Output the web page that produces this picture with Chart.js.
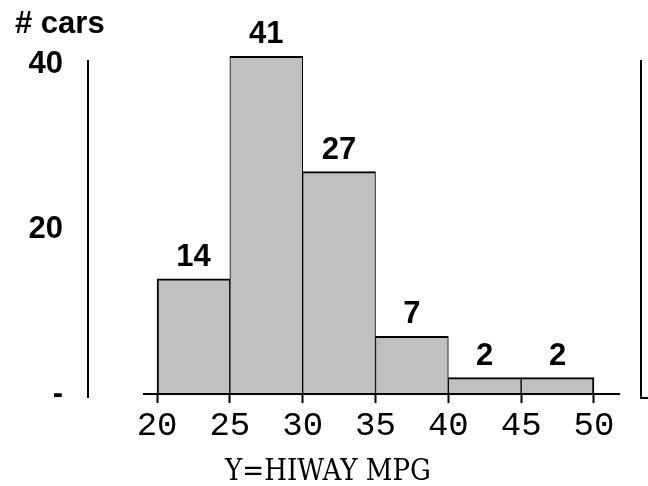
<!DOCTYPE html>
<html lang="en">
<head>
<meta charset="UTF-8">
<title>Highway MPG histogram</title>
<script src="https://cdn.jsdelivr.net/npm/chart.js"></script>
<style>
    body { margin: 0; background: #fff; }
    .wrap { width: 648px; height: 486px; }
</style>
</head>
<body>
<div class="wrap"><canvas id="hist"></canvas></div>
<script>
    // histogram bins (5 mpg wide) and number of cars in each
    const binStarts = [20, 25, 30, 35, 40, 45];
    const binWidth = 5;
    const carCounts = [14, 41, 27, 7, 2, 2];
    const xTicks = [20, 25, 30, 35, 40, 45, 50];
    const yTicks = [0, 20, 40];
    const yTickLabels = ['-', '20', '40'];

    // axis ranges
    const xMin = 15.26, xMax = 53.23;
    const baselineFrom = 19.04, baselineTo = 51.8;
    const yMax = 40.4;

    const boldFont = { family: '"Liberation Sans", Arial, sans-serif', size: 31, weight: 'bold' };

    // baseline, counts above the bars, little foot on the right axis
    const extras = {
        id: 'extras',
        afterDatasetsDraw(chart) {
            const ctx = chart.ctx;
            const x = chart.scales.x, y = chart.scales.y;
            const y0 = y.getPixelForValue(0);
            ctx.save();
            ctx.strokeStyle = '#000';
            ctx.lineWidth = 2;
            ctx.beginPath();
            ctx.moveTo(x.getPixelForValue(baselineFrom), y0);
            ctx.lineTo(x.getPixelForValue(baselineTo), y0);
            // axis lines run a little below the baseline
            ctx.moveTo(chart.chartArea.left, y0);
            ctx.lineTo(chart.chartArea.left, y0 + 4);
            ctx.moveTo(chart.chartArea.right, y0);
            ctx.lineTo(chart.chartArea.right, y0 + 4);
            ctx.lineTo(chart.chartArea.right + 8, y0 + 4);
            ctx.stroke();

            ctx.font = 'bold 31px "Liberation Sans", Arial, sans-serif';
            ctx.fillStyle = '#000';
            ctx.textAlign = 'center';
            ctx.textBaseline = 'alphabetic';
            chart.getDatasetMeta(0).data.forEach((bar, i) => {
                ctx.fillText(String(carCounts[i]), bar.x, bar.y - 13);
            });
            ctx.restore();
        }
    };

    const n = carCounts.length;
    new Chart(document.getElementById('hist'), {
        type: 'bar',
        data: {
            datasets: [{
                data: binStarts.map((s, i) => ({ x: s + binWidth / 2, y: carCounts[i] })),
                backgroundColor: '#c0c0c0',
                borderColor: '#000',
                borderWidth: ctx => ({
                    top: 2,
                    left: ctx.dataIndex === 0 ? 2 : 1,
                    right: ctx.dataIndex === n - 1 ? 2 : 1,
                    bottom: 0
                }),
                borderSkipped: 'bottom',
                barPercentage: 1,
                categoryPercentage: 1,
                clip: false
            }]
        },
        options: {
            responsive: true,
            maintainAspectRatio: false,
            animation: false,
            layout: { padding: { left: 15, right: 7, top: 0, bottom: 0 } },
            plugins: {
                legend: { display: false },
                tooltip: { enabled: false },
                title: {
                    display: true,
                    text: '# cars',
                    align: 'start',
                    color: '#000',
                    font: boldFont,
                    padding: { top: 6, bottom: 18 }
                },
                subtitle: {
                    display: true,
                    position: 'bottom',
                    text: 'Y=HIWAY MPG',
                    color: '#000',
                    font: { family: '"DejaVu Serif Condensed", "DejaVu Serif", serif', size: 29, lineHeight: 0.9 },
                    padding: { top: 12, bottom: 0 }
                }
            },
            scales: {
                x: {
                    type: 'linear',
                    min: xMin,
                    max: xMax,
                    offset: false,
                    afterBuildTicks: axis => { axis.ticks = xTicks.map(v => ({ value: v })); },
                    border: { display: false },
                    grid: {
                        offset: false,
                        drawOnChartArea: false,
                        tickLength: 9,
                        tickWidth: 2,
                        tickColor: '#000'
                    },
                    ticks: {
                        color: '#000',
                        padding: 2,
                        maxRotation: 0,
                        autoSkip: false,
                        font: { family: '"Liberation Mono", "Courier New", monospace', size: 34 }
                    }
                },
                y: {
                    position: 'left',
                    min: 0,
                    max: yMax,
                    afterBuildTicks: axis => { axis.ticks = yTicks.map(v => ({ value: v })); },
                    afterFit: axis => { axis.width = 73; },
                    border: { display: true, color: '#000', width: 2 },
                    grid: { display: false },
                    ticks: {
                        color: '#000',
                        padding: 17,
                        font: boldFont,
                        callback: v => yTickLabels[yTicks.indexOf(v)]
                    }
                },
                yRight: {
                    position: 'right',
                    min: 0,
                    max: yMax,
                    afterFit: axis => { axis.width = 0; },
                    border: { display: true, color: '#000', width: 2 },
                    grid: { display: false },
                    ticks: { display: false }
                }
            }
        },
        plugins: [extras]
    });
</script>
</body>
</html>
